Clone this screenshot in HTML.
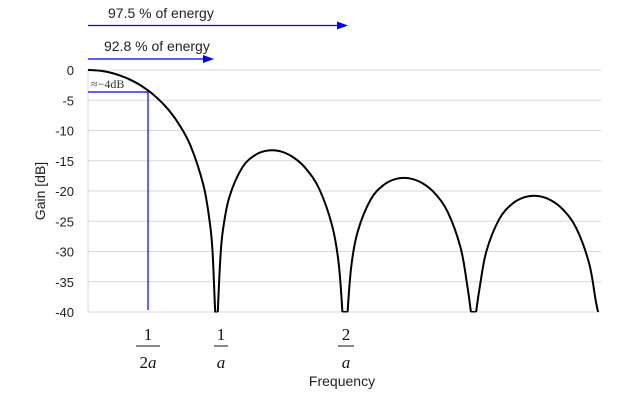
<!DOCTYPE html>
<html><head><meta charset="utf-8"><style>
body{margin:0;background:#fff}
svg{display:block;font-family:"Liberation Sans",sans-serif}
</style></head><body>
<svg width="625" height="404" viewBox="0 0 625 404">
<defs><clipPath id="pc"><rect x="80" y="60" width="530" height="252.5"/></clipPath></defs>
<g id="grid"></g><g id="ylabels"></g>
<path id="curve" clip-path="url(#pc)" fill="none" stroke="#000" stroke-width="2"/>
<line x1="88" y1="92" x2="148" y2="92" stroke="#00f" stroke-width="1.2"/>
<line x1="148" y1="92" x2="148" y2="310" stroke="#00f" stroke-width="1.2"/>
<text x="91" y="88" font-family="Liberation Serif,serif" font-size="12" fill="#333">≈−4dB</text>
<text x="108" y="18" font-size="14" fill="#222">97.5 % of energy</text>
<line x1="88" y1="25.5" x2="340" y2="25.5" stroke="#00f" stroke-width="1.2"/>
<polygon points="348,25.5 337,21.5 337,29.5" fill="#00f"/>
<text x="104" y="51" font-size="14" fill="#222">92.8 % of energy</text>
<line x1="88" y1="59" x2="206" y2="59" stroke="#00f" stroke-width="1.2"/>
<polygon points="214,59 203,55 203,63" fill="#00f"/>
<g font-family="Liberation Serif,serif" font-size="17" text-anchor="middle" fill="#111">
<g><text x="148" y="340">1</text><line x1="136" y1="346" x2="160" y2="346" stroke="#111"/><text x="148" y="368"><tspan>2</tspan><tspan font-style="italic">a</tspan></text></g>
<g><text x="221" y="340">1</text><line x1="214" y1="346" x2="228" y2="346" stroke="#111"/><text x="221" y="368" font-style="italic">a</text></g>
<g><text x="346" y="340">2</text><line x1="338" y1="346" x2="354" y2="346" stroke="#111"/><text x="346" y="368" font-style="italic">a</text></g>
</g>
<text x="342" y="386" font-size="14" text-anchor="middle" fill="#222">Frequency</text>
<text transform="translate(45,191) rotate(-90)" font-size="14" text-anchor="middle" fill="#222">Gain [dB]</text>
</svg>
<script>
const freqs=[0,0.1,0.2,0.3,0.4,0.5,0.6,0.7,0.8,0.9,0.95,0.97,0.99,1.0,1.01,1.03,1.05,1.1,1.2,1.3,1.4,1.5,1.6,1.7,1.8,1.9,1.95,1.98,2.0,2.02,2.05,2.1,2.2,2.3,2.4,2.5,2.6,2.7,2.8,2.9,2.95,2.98,3.0,3.02,3.05,3.1,3.2,3.3,3.4,3.5,3.6,3.7,3.8,3.9,3.95,3.97];
const gains=[0,-0.14,-0.58,-1.33,-2.42,-3.92,-5.94,-8.69,-12.62,-19.23,-25.6,-30.2,-39.9,-40,-40,-31,-26.5,-20.97,-16.14,-14.06,-13.30,-13.46,-14.46,-16.39,-19.67,-25.72,-31.86,-40,-40,-40,-32.29,-26.59,-21.41,-19.02,-17.98,-17.90,-18.68,-20.41,-23.50,-29.39,-35.45,-40,-40,-40,-35.74,-29.97,-24.66,-22.15,-21.01,-20.82,-21.50,-23.15,-26.15,-31.96,-38,-40];
const yTicks=[0,-5,-10,-15,-20,-25,-30,-35,-40];
const X=f=>88+f*128.5, Y=g=>70+(-g)*242/40;
const NS='http://www.w3.org/2000/svg';
const grid=document.getElementById('grid'), yl=document.getElementById('ylabels');
yTicks.forEach(t=>{
  const l=document.createElementNS(NS,'line');
  l.setAttribute('x1',88);l.setAttribute('x2',601);l.setAttribute('y1',Y(t));l.setAttribute('y2',Y(t));
  l.setAttribute('stroke','#d9d9d9');
  
  
  grid.appendChild(l);
  const tx=document.createElementNS(NS,'text');
  tx.setAttribute('x',74);tx.setAttribute('y',Y(t)+5);tx.setAttribute('text-anchor','end');
  tx.setAttribute('font-size','13');tx.setAttribute('fill','#222');
  tx.textContent=t;
  
  
  yl.appendChild(tx);
});
const ax=document.createElementNS(NS,'line');
ax.setAttribute('x1',88);ax.setAttribute('x2',88);ax.setAttribute('y1',70);ax.setAttribute('y2',312);ax.setAttribute('stroke','#d9d9d9');


grid.appendChild(ax);
// split into lobes at nulls, draw each with Catmull-Rom smoothing
const pts=freqs.map((f,i)=>[X(f),Y(Math.max(gains[i],-40))]);
const segs=[];let cur=[];
pts.forEach((p,i)=>{cur.push(p);if(gains[i]<=-40&&cur.length>1){segs.push(cur);cur=[p];}else if(gains[i]<=-40){cur=[p];}});
if(cur.length>1)segs.push(cur);
let d='';
segs.forEach(s=>{
  d+='M'+s[0][0].toFixed(1)+','+s[0][1].toFixed(1);
  for(let i=0;i<s.length-1;i++){
    const p0=s[Math.max(i-1,0)],p1=s[i],p2=s[i+1],p3=s[Math.min(i+2,s.length-1)];
    const e1=(i===0)?0:1, e2=(i+2>s.length-1)?0:1;
    const c1=[p1[0]+e1*(p2[0]-p0[0])/6,p1[1]+e1*(p2[1]-p0[1])/6];
    const c2=[p2[0]-e2*(p3[0]-p1[0])/6,p2[1]-e2*(p3[1]-p1[1])/6];
    d+='C'+c1.map(v=>v.toFixed(1)).join(',')+' '+c2.map(v=>v.toFixed(1)).join(',')+' '+p2.map(v=>v.toFixed(1)).join(',');
  }
});
document.getElementById('curve').setAttribute('d',d);
</script>
</body></html>
